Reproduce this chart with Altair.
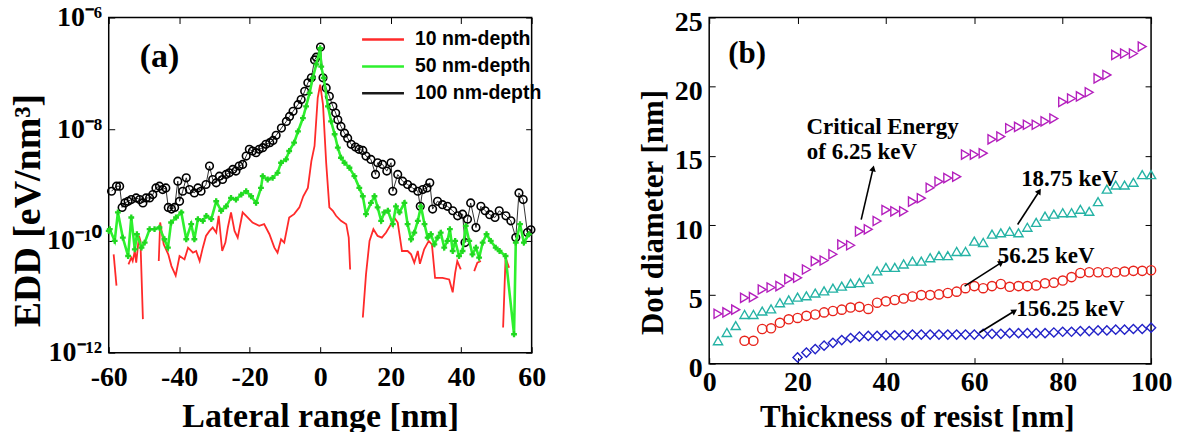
import altair as alt
import pandas as pd

# ---------------- Panel (a): EDD vs lateral range (values as log10 of EDD) ----------------
black_x = [-59.2, -57.8, -56.9, -56.2, -55.4, -54.5, -53.6, -52.2, -51.2, -50.3, -49.4, -48.4, -47.5, -46.6,
           -45.6, -44.7, -43.8, -43.1, -42.2, -41.3, -40.4, -39.9, -39.0, -38.0, -37.1, -35.7, -34.7, -33.8,
           -32.4, -31.4, -30.5, -29.5, -28.6, -27.7, -26.7, -25.8, -24.8, -23.9, -23.0, -22.0, -21.0, -20.1,
           -19.2, -18.2, -17.3, -16.3, -15.4, -14.3, -13.4, -12.5, -11.0, -9.6, -8.7, -7.7, -6.3, -5.4, -4.4,
           -3.5, -2.5, -1.6, -1.1, 0.1, 0.8, 1.7, 2.6, 3.6, 4.4, 5.0, 5.9, 6.9, 7.8, 8.8, 10.0, 11.0, 12.1,
           13.0, 14.4, 15.7, 16.3, 17.7, 18.9, 20.1, 20.6, 22.0, 23.4, 24.8, 26.2, 27.7, 28.4, 29.1, 30.3,
           31.1, 31.9, 33.3, 34.7, 36.1, 37.6, 39.0, 40.4, 41.1, 41.8, 42.7, 44.2, 45.6, 46.8, 48.1, 49.6,
           50.8, 52.7, 54.1, 55.5, 56.4, 57.6, 58.8, 59.8]
black_log = [-9.11, -9.02, -9.02, -9.40, -9.32, -9.29, -9.26, -9.23, -9.26, -9.32, -9.23, -9.23, -9.17, -9.05,
             -9.02, -9.08, -9.05, -9.40, -9.43, -9.40, -8.93, -9.29, -9.11, -8.87, -9.08, -9.14, -9.05, -9.11,
             -8.99, -8.66, -8.90, -8.96, -8.84, -8.90, -8.81, -8.78, -8.72, -8.75, -8.66, -8.63, -8.48, -8.36,
             -8.39, -8.42, -8.36, -8.33, -8.27, -8.24, -8.20, -8.11, -7.98, -7.86, -7.77, -7.68, -7.56, -7.47, -7.32,
             -7.17, -7.08, -6.76, -6.71, -6.53, -7.08, -7.26, -7.41, -7.59, -7.71, -7.83, -7.95, -8.07, -8.16, -8.27,
             -8.32, -8.36, -8.38, -8.48, -8.54, -8.81, -8.60, -8.63, -8.75, -8.60, -9.11, -8.81, -8.93, -8.99,
             -9.05, -9.11, -9.38, -9.08, -9.05, -8.96, -9.43, -9.29, -9.35, -9.38, -9.46, -9.55, -9.52, -10.03,
             -9.61, -9.32, -9.76, -9.38, -9.46, -9.53, -9.58, -9.46, -9.55, -9.64, -9.94, -9.14, -9.26, -9.85,
             -9.80]

green_x = [-60.0, -59.7, -58.3, -57.4, -56.0, -54.5, -53.6, -52.6, -52.0, -50.7, -49.8, -48.4, -47.0, -45.6,
           -44.2, -43.2, -42.3, -40.9, -39.4, -38.0, -36.6, -35.7, -34.7, -33.3, -32.3, -30.9, -29.5, -28.1,
           -26.7, -25.3, -23.9, -22.4, -21.0, -19.6, -18.2, -16.8, -16.3, -14.9, -13.5, -12.1, -11.1, -9.7,
           -8.8, -7.4, -6.3, -4.9, -4.0, -3.0, -2.1, -1.1, 0.0, 0.3, 1.0, 2.2, 3.1, 4.1, 5.0, 5.9, 6.9, 8.3,
           9.7, 11.1, 12.1, 13.0, 14.4, 15.4, 16.3, 17.3, 18.2, 19.2, 20.6, 21.5, 22.5, 23.9, 24.8, 25.8,
           26.7, 27.7, 28.6, 29.6, 30.5, 31.4, 32.4, 33.3, 34.2, 35.2, 36.1, 36.8, 37.6, 38.3, 39.4, 40.4,
           41.3, 42.3, 43.2, 44.2, 45.1, 46.1, 47.2, 48.4, 49.8, 50.9, 52.6, 55.0, 55.5, 56.7, 57.8, 59.2]
green_log = [-9.82, -9.79, -10.00, -9.49, -9.94, -10.27, -9.58, -10.15, -9.88, -10.12, -10.03, -9.79, -9.79, -9.76,
             -9.97, -10.12, -9.67, -9.58, -9.49, -9.97, -9.70, -9.97, -9.61, -9.64, -9.55, -9.61, -9.29, -9.46,
             -9.38, -9.23, -9.26, -9.17, -9.11, -9.20, -9.32, -9.05, -8.84, -8.90, -8.87, -8.78, -8.60, -8.54,
             -8.39, -8.24, -8.04, -7.80, -7.59, -7.35, -7.08, -6.84, -6.55, -6.88, -7.08, -7.59, -7.86, -8.09,
             -8.33, -8.51, -8.60, -8.69, -8.84, -9.05, -9.20, -9.52, -9.32, -9.20, -9.40, -9.64, -9.49, -9.46,
             -9.70, -9.38, -9.49, -9.32, -9.70, -9.97, -9.85, -9.64, -9.38, -9.70, -9.94, -9.88, -10.06, -9.94,
             -9.85, -10.12, -10.00, -9.79, -10.18, -10.00, -10.27, -10.18, -9.73, -10.00, -10.24, -10.12, -10.30,
             -10.03, -9.88, -10.00, -10.12, -10.18, -10.27, -11.67, -10.03, -9.70, -10.03, -9.88]

red_x = [-58.6, -57.8,
         -54.4, -53.6, -53.2, -52.6, -52.2, -51.4, -51.0, -50.3,
         -45.8, -45.4, -44.4, -43.1, -42.2, -41.0, -39.9, -38.5, -37.5, -36.1, -35.2, -34.2, -33.3, -32.4,
         -31.4, -30.5, -29.5, -28.8, -27.8, -26.9, -26.2, -25.3, -24.3, -23.4, -22.0, -20.6, -19.2, -17.3,
         -15.9, -14.4, -13.0, -12.1, -11.1, -10.2, -8.8, -7.4, -5.9, -4.8, -3.5, -2.5, -1.6, -0.7, 0.0, 0.8,
         1.7, 2.6, 3.6, 4.5, 5.9, 7.4, 8.1, 8.5,
         12.1, 13.0, 14.0, 15.1, 16.3, 17.5, 18.7, 20.1, 21.0, 22.0, 23.2, 24.8, 25.8, 26.7, 27.7, 28.3,
         29.5, 30.8, 31.7, 32.6, 34.7, 36.6, 37.6, 38.3, 38.9, 39.9,
         43.7, 44.6, 45.6,
         51.9, 52.6, 53.6]
red_log = [-10.24, -10.80,
           -10.42, -10.30, -10.36, -10.18, -10.39, -9.91, -10.00, -11.40,
           -10.36, -9.67, -10.06, -10.24, -10.45, -10.62, -10.27, -10.33, -10.12, -10.21, -10.18, -10.36, -10.12,
           -9.91, -9.82, -9.76, -9.85, -9.55, -10.18, -10.03, -9.76, -9.49, -9.82, -9.94, -9.49, -9.58, -9.67,
           -9.73, -9.70, -9.88, -10.12, -10.21, -9.97, -10.03, -9.58, -9.52, -9.40, -9.20, -9.05, -8.57, -8.30,
           -7.44, -7.20, -7.56, -8.60, -9.40, -9.46, -9.55, -9.64, -9.70, -9.94, -10.51,
           -11.37, -10.60, -10.00, -9.79, -9.91, -9.94, -9.85, -9.70, -9.58, -9.67, -10.18, -10.18, -10.24, -10.39,
           -10.18, -10.41, -10.15, -10.00, -10.06, -10.66, -10.66, -10.69, -10.92, -10.57, -10.36, -10.51,
           -10.54, -10.39, -10.36,
           -11.55, -10.30, -10.48]
red_seg = [1, 1,
           2, 2, 2, 2, 2, 2, 2, 2,
           3, 3, 3, 3, 3, 3, 3, 3, 3, 3, 3, 3, 3, 3, 3, 3, 3, 3, 3, 3, 3, 3, 3, 3, 3, 3, 3, 3, 3, 3, 3, 3,
           3, 3, 3, 3, 3, 3, 3, 3, 3, 3, 3, 3, 3, 3, 3, 3, 3, 3, 3, 3,
           4, 4, 4, 4, 4, 4, 4, 4, 4, 4, 4, 4, 4, 4, 4, 4, 4, 4, 4, 4, 4, 4, 4, 4, 4, 4,
           5, 5, 5,
           6, 6, 6]

series_names = ["10 nm-depth", "50 nm-depth", "100 nm-depth"]
series_colors = ["#ff2a2a", "#2ef02e", "#1a1a1a"]

# ---------------- Panel (b): dot diameter vs resist thickness ----------------
t_625 = [2, 4, 6, 8, 10, 12, 14, 16, 18, 20, 22, 24, 26, 28, 30, 32, 34, 36, 38, 40, 42, 44, 46, 48, 50,
         52, 54, 56, 58, 60, 62, 64, 66, 68, 70, 72, 74, 76, 78, 80, 82, 84, 86, 88, 90, 92, 94, 96, 98]
d_625 = [3.6, 3.7, 3.9, 4.75, 4.8, 5.35, 5.5, 5.6, 6.1, 6.2, 6.8, 7.4, 7.45, 7.9, 8.6, 8.55, 9.55, 9.7, 10.3,
         11.1, 11.0, 11.0, 11.7, 11.95, 12.7, 13.15, 13.4, 13.5, 15.1, 15.1, 15.2, 16.2, 16.4, 17.0, 17.1,
         17.25, 17.25, 17.5, 17.7, 18.9, 19.15, 19.3, 19.6, 20.6, 20.85, 22.3, 22.4, 22.4, 22.9]
t_1875 = [2, 4, 6, 8, 10, 12, 14, 16, 18, 20, 22, 24, 26, 28, 30, 32, 34, 36, 38, 40, 42, 44, 46, 48, 50,
          52, 54, 56, 58, 60, 62, 64, 66, 68, 70, 72, 74, 76, 78, 80, 82, 84, 86, 88, 90, 92, 94, 96, 98, 100]
d_1875 = [1.65, 2.25, 2.75, 3.55, 3.55, 3.8, 3.95, 4.4, 4.6, 4.8, 4.9, 5.1, 5.25, 5.45, 5.6, 5.8, 5.85, 6.1,
          6.7, 6.95, 6.95, 7.2, 7.4, 7.4, 7.65, 7.8, 7.8, 8.1, 8.1, 8.85, 8.75, 9.35, 9.45, 9.55, 9.45, 9.85,
          10.2, 10.65, 10.8, 10.9, 10.9, 11.15, 11.0, 11.7, 12.6, 12.9, 12.9, 13.1, 13.65, 13.65]
t_5625 = [8, 10, 12, 14, 16, 18, 20, 22, 24, 26, 28, 30, 32, 34, 36, 38, 40, 42, 44, 46, 48, 50, 52, 54,
          56, 58, 60, 62, 64, 66, 68, 70, 72, 74, 76, 78, 80, 82, 84, 86, 88, 90, 92, 94, 96, 98, 100]
d_5625 = [1.65, 1.65, 2.5, 2.55, 2.95, 3.2, 3.3, 3.45, 3.55, 3.7, 3.8, 3.9, 4.05, 4.1, 3.95, 4.4, 4.5, 4.6,
          4.7, 4.85, 4.95, 4.95, 5.0, 5.1, 5.2, 5.45, 5.6, 5.45, 5.6, 5.75, 5.55, 5.6, 5.6, 5.65, 5.8, 5.85,
          6.0, 6.25, 6.55, 6.6, 6.6, 6.6, 6.6, 6.65, 6.7, 6.7, 6.75]
t_15625 = [20, 22, 24, 26, 28, 30, 32, 34, 36, 38, 40, 42, 44, 46, 48, 50, 52, 54, 56, 58, 60, 62, 64, 66,
           68, 70, 72, 74, 76, 78, 80, 82, 84, 86, 88, 90, 92, 94, 96, 98, 100]
d_15625 = [0.45, 0.8, 1.05, 1.3, 1.5, 1.7, 1.85, 1.95, 2.0, 2.0, 2.05, 2.05, 2.05, 2.1, 2.1, 2.1, 2.1, 2.1,
           2.1, 2.1, 2.1, 2.15, 2.15, 2.15, 2.2, 2.2, 2.2, 2.2, 2.2, 2.25, 2.3, 2.3, 2.35, 2.35, 2.4, 2.4,
           2.45, 2.45, 2.5, 2.5, 2.6]
energy_names = ["6.25 keV", "18.75 keV", "56.25 keV", "156.25 keV"]
energy_colors = ["#b41fbd", "#25b3a5", "#e8231b", "#2323c8"]
energy_shapes = ["triangle-right", "triangle-up", "circle", "diamond"]

ann_text = ["Critical Energy", "of 6.25 keV", "18.75 keV", "56.25 keV", "156.25 keV"]
ann_x = [22.0, 22.1, 70.6, 65.3, 69.5]
ann_y = [16.6, 14.8, 12.8, 7.3, 3.45]
arrow_x0 = [34.4, 69.8, 57.8, 61.2]
arrow_y0 = [10.4, 10.05, 5.6, 2.25]
arrow_x1 = [37.1, 74.7, 66.1, 69.1]
arrow_y1 = [14.1, 12.45, 7.3, 3.8]
arrow_angle = [13, 33, 57, 58]

# ---------------- build tables ----------------
black_df = pd.DataFrame({"x": black_x, "edd": [10 ** v for v in black_log], "series": series_names[2]})
green_df = pd.DataFrame({"x": green_x, "edd": [10 ** v for v in green_log], "series": series_names[1]})
red_df = pd.DataFrame({"x": red_x, "edd": [10 ** v for v in red_log], "series": series_names[0], "seg": red_seg})
label_a = pd.DataFrame({"x": [-45.6], "edd": [10 ** -6.71], "t": ["(a)"]})

rows = []
for name, ts, ds in zip(energy_names, [t_625, t_1875, t_5625, t_15625], [d_625, d_1875, d_5625, d_15625]):
    for t, d in zip(ts, ds):
        rows.append({"t": t, "d": d, "energy": name})
dots_df = pd.DataFrame(rows)
ann_df = pd.DataFrame({"x": ann_x, "y": ann_y, "text": ann_text})
arrow_df = pd.DataFrame({"x0": arrow_x0, "y0": arrow_y0, "x1": arrow_x1, "y1": arrow_y1, "ang": arrow_angle})
label_b = pd.DataFrame({"x": [4.3], "y": [21.7], "t": ["(b)"]})

SERIF = "Liberation Serif"
W1, H1 = 424, 336
W2, H2 = 443, 347
HYPHEN_LABELS = "datum.value < 0 ? '-' + abs(datum.value) : '' + datum.value"

# ---------------- panel (a) ----------------
xs_a = alt.Scale(domain=[-60, 60], nice=False, zero=False)
ys_a = alt.Scale(type="log", domain=[1e-12, 1e-6], nice=False)
x_axis_a = alt.Axis(values=[-60, -40, -20, 0, 20, 40, 60], title="Lateral range [nm]", titleFontSize=34,
                    titleY=74, titleBaseline="alphabetic", labelPadding=11, labelExpr=HYPHEN_LABELS,
                    grid=True, gridColor="black", gridOpacity=1, gridWidth=1, gridDash=[6, H1 - 12, 6, 60])
y_axis_a = alt.Axis(values=[1e-12, 1e-10, 1e-8, 1e-6], title="EDD [eV/nm³]", titleFontSize=38,
                    titleX=-80, titleY=193, titleBaseline="middle", labelPadding=7,
                    labelExpr="datum.value < 2e-12 ? '10⁻¹²' : datum.value < 2e-10 ? '10⁻¹⁰' : datum.value < 2e-8 ? '10⁻⁸' : '10⁻⁶'",
                    grid=True, gridColor="black", gridOpacity=1, gridWidth=1, gridDash=[6, W1 - 12, 6, 60])
X_a = alt.X("x:Q", scale=xs_a, axis=x_axis_a)
Y_a = alt.Y("edd:Q", scale=ys_a, axis=y_axis_a)
color_a = alt.Color("series:N", scale=alt.Scale(domain=series_names, range=series_colors),
                    legend=alt.Legend(orient="none", legendX=263, legendY=10, title=None,
                                      labelFont="Liberation Sans", labelFontSize=19.5, labelFontWeight="bold",
                                      labelColor="black", symbolType="M-2,0H2", symbolSize=441,
                                      symbolStrokeWidth=2.5, labelOffset=20, rowPadding=5, padding=0))

black_line = alt.Chart(black_df).mark_line(strokeWidth=0.9).encode(x=X_a, y=Y_a, color=color_a)
black_pts = alt.Chart(black_df).mark_point(shape="circle", filled=False, size=58, strokeWidth=1.6,
                                           color="black", opacity=1).encode(x=X_a, y=Y_a)
red_line = alt.Chart(red_df).mark_line(strokeWidth=1.8).encode(x=X_a, y=Y_a, color=color_a, detail="seg:N")
green_line = alt.Chart(green_df).mark_line(strokeWidth=2.6).encode(x=X_a, y=Y_a, color=color_a)
green_pts = alt.Chart(green_df).mark_point(shape="cross", filled=True, size=34, color="#20d820",
                                           opacity=1).encode(x=X_a, y=Y_a)
a_text = alt.Chart(label_a).mark_text(font=SERIF, fontWeight="bold", fontSize=34, color="black").encode(
    x=X_a, y=Y_a, text="t:N")

left = alt.layer(black_line, black_pts, red_line, green_line, green_pts, a_text).properties(width=W1, height=H1)

# ---------------- panel (b) ----------------
xs_b = alt.Scale(domain=[0, 100], nice=False)
ys_b = alt.Scale(domain=[0, 25], nice=False)
x_axis_b = alt.Axis(values=[0, 20, 40, 60, 80, 100], title="Thickness of resist [nm]", titleFontSize=31,
                    titleX=208, titleY=63, titleBaseline="alphabetic", labelPadding=5,
                    grid=True, gridColor="black", gridOpacity=1, gridWidth=1, gridDash=[6, H2 - 12, 6, 60])
y_axis_b = alt.Axis(values=[0, 5, 10, 15, 20, 25], title="Dot diameter [nm]", titleFontSize=31,
                    titleX=-56, titleY=195, titleBaseline="middle", labelPadding=7, labelOffset=5,
                    grid=True, gridColor="black", gridOpacity=1, gridWidth=1, gridDash=[6, W2 - 12, 6, 60])

dots = alt.Chart(dots_df).mark_point(filled=False, size=85, strokeWidth=1.4, opacity=1).encode(
    x=alt.X("t:Q", scale=xs_b, axis=x_axis_b),
    y=alt.Y("d:Q", scale=ys_b, axis=y_axis_b),
    color=alt.Color("energy:N", scale=alt.Scale(domain=energy_names, range=energy_colors), legend=None),
    shape=alt.Shape("energy:N", scale=alt.Scale(domain=energy_names, range=energy_shapes), legend=None),
)
arrows = alt.Chart(arrow_df).mark_rule(color="black", strokeWidth=1.6).encode(
    x=alt.X("x0:Q", scale=xs_b), y=alt.Y("y0:Q", scale=ys_b), x2="x1:Q", y2="y1:Q")
heads = alt.Chart(arrow_df).mark_point(shape="triangle-up", filled=True, size=45, color="black",
                                       opacity=1).encode(
    x=alt.X("x1:Q", scale=xs_b), y=alt.Y("y1:Q", scale=ys_b), angle=alt.Angle("ang:Q", scale=None))
texts = alt.Chart(ann_df).mark_text(font=SERIF, fontWeight="bold", fontSize=23, align="left",
                                    baseline="alphabetic", color="black").encode(
    x=alt.X("x:Q", scale=xs_b), y=alt.Y("y:Q", scale=ys_b), text="text:N")
b_text = alt.Chart(label_b).mark_text(font=SERIF, fontWeight="bold", fontSize=31, align="left",
                                      baseline="alphabetic", color="black").encode(
    x=alt.X("x:Q", scale=xs_b), y=alt.Y("y:Q", scale=ys_b), text="t:N")

right = alt.layer(dots, arrows, heads, texts, b_text).properties(width=W2, height=H2)

chart = alt.hconcat(left, right, spacing=178, bounds="flush").resolve_scale(
    color="independent", shape="independent"
).properties(
    padding={"left": 9, "top": 2, "right": 4, "bottom": 0}, background="white"
).configure_view(stroke="black", strokeWidth=1.5).configure_axis(
    labelFont=SERIF, labelFontWeight="bold", labelFontSize=28, labelColor="black",
    titleFont=SERIF, titleFontWeight="bold", titleColor="black",
    domain=False, ticks=False, labelFlush=False
)

chart.save("out.html", embed_options={"renderer": "svg", "actions": False})
